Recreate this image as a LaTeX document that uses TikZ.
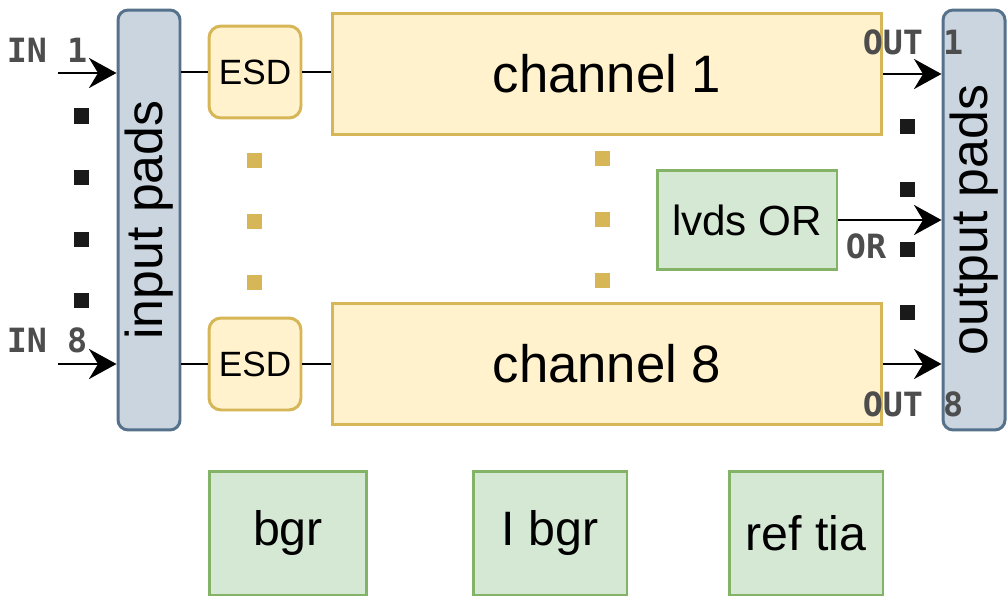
\documentclass[tikz,border=0pt]{standalone}
\usepackage{fontspec}
\setmainfont{Liberation Sans}
\newfontfamily\labelfont{DejaVu Sans Mono}
\usetikzlibrary{arrows.meta,positioning}
\definecolor{padfill}{HTML}{CAD5DF}
\definecolor{paddraw}{HTML}{56718C}
\definecolor{esdfill}{HTML}{FFF2CC}
\definecolor{esddraw}{HTML}{D6B656}
\definecolor{grnfill}{HTML}{D5E8D4}
\definecolor{grndraw}{HTML}{82B366}
\definecolor{lblgray}{HTML}{4D4D4D}
\definecolor{dotblack}{HTML}{1A1A1A}
\tikzset{
    padbox/.style={rectangle,draw=paddraw,fill=padfill,rounded corners=0.2cm,line width=1.7pt,minimum width=1.24cm,minimum height=8.4cm,inner sep=0pt,font=\fontsize{29.5}{34}\selectfont},
    esdbox/.style={rectangle,draw=esddraw,fill=esdfill,rounded corners=0.24cm,line width=1.7pt,minimum width=1.84cm,minimum height=1.84cm,inner sep=0pt,font=\fontsize{20}{24}\selectfont},
    chanbox/.style={rectangle,draw=esddraw,fill=esdfill,line width=1.7pt,minimum width=11cm,minimum height=2.44cm,font=\fontsize{30}{36}\selectfont},
    greenbox/.style={rectangle,draw=grndraw,fill=grnfill,line width=1.7pt,minimum width=3.08cm,minimum height=2.48cm,font=\fontsize{27.5}{33}\selectfont},
    siglabel/.style={font=\labelfont\bfseries\fontsize{19}{23}\selectfont,text=lblgray,inner sep=0pt},
    sigline/.style={-{Stealth[length=5.5mm,width=6mm,inset=1.8mm]},line width=1.7pt},
    wireline/.style={line width=1.7pt}
}
\begin{document}
\begin{tikzpicture}[x=0.02cm,y=-0.02cm]
    \useasboundingbox (0,0) rectangle (1007,598);
    % pads
    \node[padbox] (inpads) at (149,220) {\rotatebox{90}{input pads}};
    \node[padbox] (outpads) at (974,220) {\rotatebox{90}{output pads}};
    % channels
    \node[esdbox] (esdtop) at (255,72) {ESD};
    \node[esdbox] (esdbot) at (255,364) {ESD};
    \node[chanbox] (ch1) at (607,74) {channel 1};
    \node[chanbox] (ch8) at (607,364) {channel 8};
    \node[greenbox,minimum width=3.6cm,minimum height=2cm,font=\fontsize{24}{29}\selectfont] (lvds) at (747,220) {lvds OR};
    % bias blocks
    \node[greenbox,minimum width=3.16cm] (bgr) at (288,533) {bgr};
    \node[greenbox] (ibgr) at (550,533) {I bgr};
    \node[greenbox] (reftia) at (806,533) {ref tia};
    % labels
    \node[siglabel] (in1lbl) at (47,50) {IN 1};
    \node[siglabel] (in8lbl) at (47,340) {IN 8};
    \node[siglabel] (out1lbl) at (913,42) {OUT 1};
    \node[siglabel] (out8lbl) at (913,404) {OUT 8};
    \node[siglabel] (orlbl) at (866,246) {OR};
    \coordinate (in1) at (58,73);
    \coordinate (in8) at (58,364);
    % connectors
    \draw[sigline] (in1) -- (in1 -| inpads.west);
    \draw[sigline] (in8) -- (in8 -| inpads.west);
    \draw[wireline] (inpads.east |- esdtop.west) -- (esdtop.west);
    \draw[wireline] (esdtop.east) -- (esdtop.east -| ch1.west);
    \draw[wireline] (inpads.east |- esdbot.west) -- (esdbot.west);
    \draw[wireline] (esdbot.east) -- (esdbot.east -| ch8.west);
    \draw[sigline] (ch1.east) -- (ch1.east -| outpads.west);
    \draw[sigline] (ch8.east) -- (ch8.east -| outpads.west);
    \draw[sigline] (lvds.east) -- (lvds.east -| outpads.west);
    % dots
    \foreach \yy in {116,177,239,300} \fill[dotblack] (74,\yy-7.5) rectangle (89,\yy+7.5);
    \foreach \yy in {126.5,189.5,249.5,312} \fill[dotblack] (900,\yy-7.5) rectangle (915,\yy+7.5);
    \foreach \yy in {160,221.5,282.5} \fill[esddraw] (247,\yy-7.5) rectangle (262,\yy+7.5);
    \foreach \yy in {158.5,219.5,280.5} \fill[esddraw] (595,\yy-7.5) rectangle (610,\yy+7.5);
\end{tikzpicture}
\end{document}
